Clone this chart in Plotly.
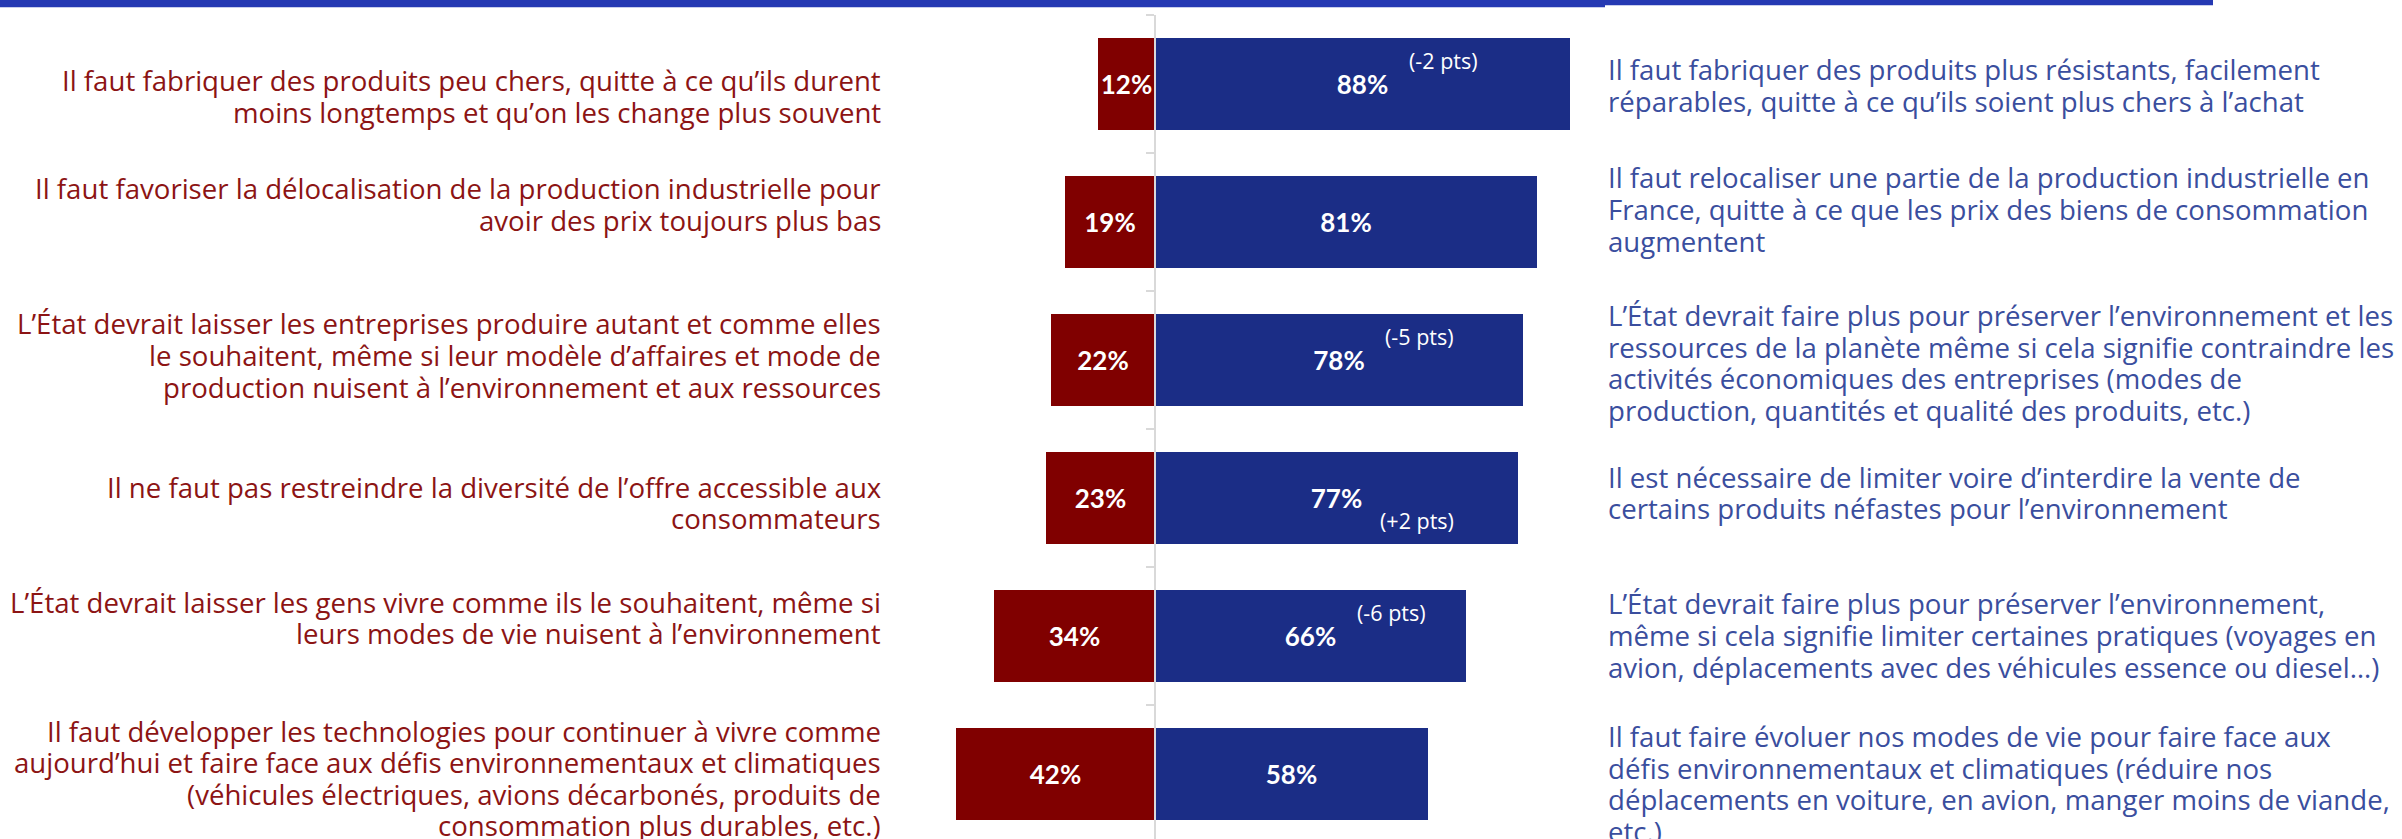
import plotly.graph_objects as go

# ---------------- data ----------------
left_labels = [
    "Il faut fabriquer des produits peu chers, quitte à ce qu’ils durent<br>moins longtemps et qu’on les change plus souvent",
    "Il faut favoriser la délocalisation de la production industrielle pour<br>avoir des prix toujours plus bas",
    "L’État devrait laisser les entreprises produire autant et comme elles<br>le souhaitent, même si leur modèle d’affaires et mode de<br>production nuisent à l’environnement et aux ressources",
    "Il ne faut pas restreindre la diversité de l’offre accessible aux<br>consommateurs",
    "L’État devrait laisser les gens vivre comme ils le souhaitent, même si<br>leurs modes de vie nuisent à l’environnement",
    "Il faut développer les technologies pour continuer à vivre comme<br>aujourd’hui et faire face aux défis environnementaux et climatiques<br>(véhicules électriques, avions décarbonés, produits de<br>consommation plus durables, etc.)",
]
right_labels = [
    "Il faut fabriquer des produits plus résistants, facilement<br>réparables, quitte à ce qu’ils soient plus chers à l’achat",
    "Il faut relocaliser une partie de la production industrielle en<br>France, quitte à ce que les prix des biens de consommation<br>augmentent",
    "L’État devrait faire plus pour préserver l’environnement et les<br>ressources de la planète même si cela signifie contraindre les<br>activités économiques des entreprises (modes de<br>production, quantités et qualité des produits, etc.)",
    "Il est nécessaire de limiter voire d’interdire la vente de<br>certains produits néfastes pour l’environnement",
    "L’État devrait faire plus pour préserver l’environnement,<br>même si cela signifie limiter certaines pratiques (voyages en<br>avion, déplacements avec des véhicules essence ou diesel…)",
    "Il faut faire évoluer nos modes de vie pour faire face aux<br>défis environnementaux et climatiques (réduire nos<br>déplacements en voiture, en avion, manger moins de viande,<br>etc.)",
]
red_values = [12, 19, 22, 23, 34, 42]
blue_values = [88, 81, 78, 77, 66, 58]
changes = ["(-2 pts)", "", "(-5 pts)", "(+2 pts)", "(-6 pts)", ""]

# ---------------- styling / layout helpers ----------------
W, H = 2402, 839
TOP = 15
PX_PER_PCT = 4.72
ZERO_PX = 1154.5
ROW_PX = 138.0
LINE_PX = 31.6

RED = "#800000"
BLUE = "#1B2D86"
RED_TXT = "#8C1414"
BLUE_TXT = "#3A4E9E"
BAND = "#2539B3"
AXIS_GREY = "#D9D9D9"
TXT_FONT = "Open Sans"
NUM_FONT = "Lato"
TXT_SIZE = 27.6

left_shift = [12, -18, -5, 4.5, -18.5, 4]      # px down, block centre vs row centre
right_shift = [1, -13, 2.5, -5.5, -1, 9.5]     # px down
change_above = [True, True, True, False, True, True]

idx = list(range(len(red_values)))

fig = go.Figure()
for vals, sign, col in ((red_values, -1, RED), (blue_values, 1, BLUE)):
    fig.add_trace(go.Bar(
        y=idx, x=[sign * v for v in vals], orientation="h", width=0.667,
        marker=dict(color=col, line=dict(width=0)),
        text=[f"{v}%" for v in vals], textposition="inside",
        insidetextanchor="middle", constraintext="none", textangle=0,
        textfont=dict(family=NUM_FONT, size=26, color="white", weight="bold"),
        hoverinfo="skip", showlegend=False,
    ))

annotations = []


def add_block(text, i, shift, x, anchor, color):
    lines = text.split("<br>")
    n = len(lines)
    for k, line in enumerate(lines):
        dy = shift + (k - (n - 1) / 2) * LINE_PX
        annotations.append(dict(
            xref="paper", yref="y", x=x, y=i, xanchor=anchor, yanchor="middle",
            align=anchor, text=line, showarrow=False, yshift=-dy,
            font=dict(family=TXT_FONT, size=TXT_SIZE, color=color),
        ))


for i in idx:
    add_block(left_labels[i], i, left_shift[i], 883 / W, "right", RED_TXT)
    add_block(right_labels[i], i, right_shift[i], 1606 / W, "left", BLUE_TXT)
    if changes[i]:
        annotations.append(dict(
            xref="x", yref="y", x=blue_values[i] / 2, y=i, xanchor="center",
            yanchor="middle", text=changes[i], showarrow=False,
            xshift=81, yshift=24 if change_above[i] else -22,
            font=dict(family=TXT_FONT, size=21.5, color="white"),
        ))

plot_h = H - TOP


def py(px):
    return (H - px) / plot_h


shapes = [
    dict(type="rect", xref="paper", yref="paper", x0=0, x1=1605 / W,
         y0=py(7.3), y1=py(0), fillcolor=BAND, line=dict(width=0), layer="above"),
    dict(type="rect", xref="paper", yref="paper", x0=1605 / W, x1=2213 / W,
         y0=py(5.3), y1=py(0), fillcolor=BAND, line=dict(width=0), layer="above"),
]

x_left = -ZERO_PX / PX_PER_PCT
x_right = (W - ZERO_PX) / PX_PER_PCT
y_bottom = -0.5 + plot_h / ROW_PX

fig.update_layout(
    width=W, height=H,
    margin=dict(l=0, r=0, t=TOP, b=0, pad=0),
    paper_bgcolor="white", plot_bgcolor="white",
    barmode="relative", bargap=0,
    xaxis=dict(range=[x_left, x_right], visible=False, fixedrange=True),
    yaxis=dict(
        range=[y_bottom, -0.5], anchor="free", position=ZERO_PX / W,
        showline=True, linecolor=AXIS_GREY, linewidth=2,
        ticks="outside", ticklen=8, tickwidth=2, tickcolor=AXIS_GREY,
        tickvals=[i - 0.5 for i in range(len(idx) + 1)],
        showticklabels=False, showgrid=False, zeroline=False, fixedrange=True,
    ),
    annotations=annotations, shapes=shapes,
    font=dict(family=TXT_FONT),
)

fig.write_html(
    "out.html",
    config={"displayModeBar": False},
    post_script="document.body.style.margin='0px';document.body.style.overflow='hidden';",
)
